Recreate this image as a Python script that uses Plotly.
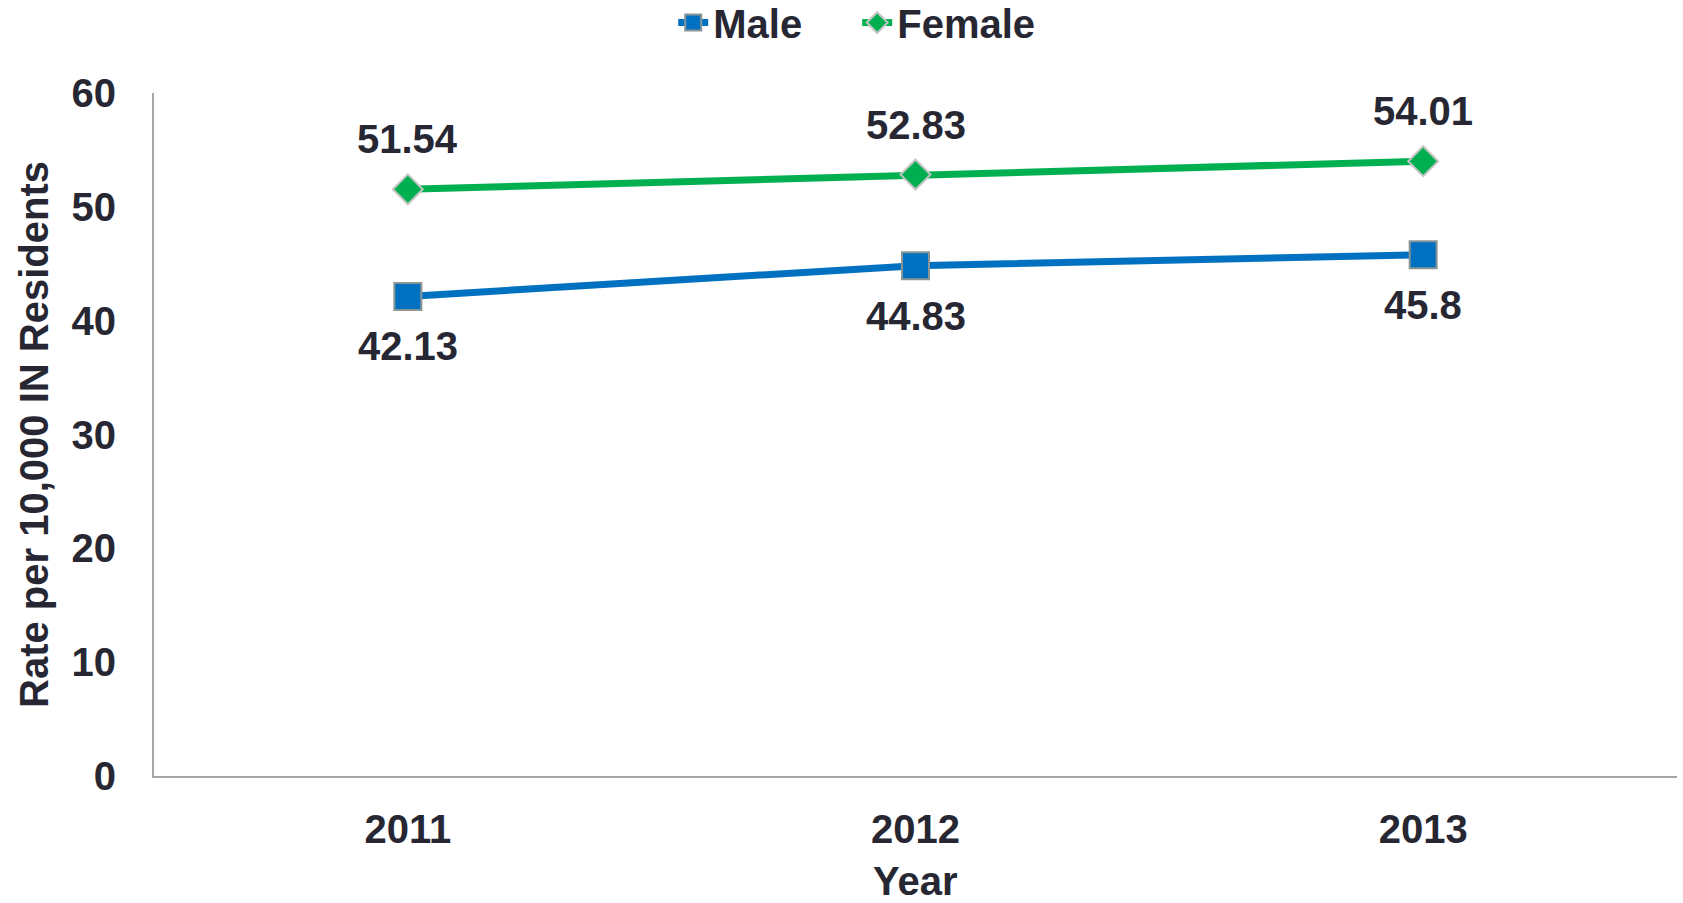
import plotly.graph_objects as go

years = ["2011", "2012", "2013"]
male = [42.13, 44.83, 45.8]
female = [51.54, 52.83, 54.01]
male_labels = ["42.13", "44.83", "45.8"]
female_labels = ["51.54", "52.83", "54.01"]
y_ticks = [0, 10, 20, 30, 40, 50, 60]

TXT = "#272733"
FONT = "Liberation Sans, Arial, sans-serif"
BIG = dict(family=FONT, size=40, color=TXT, weight="bold")

fig = go.Figure()
fig.add_trace(go.Scatter(
    x=years, y=male, name="Male", mode="lines+markers",
    line=dict(color="#0070C0", width=7),
    marker=dict(symbol="square", size=27, color="#0070C0",
                line=dict(color="#8a9696", width=2)),
))
fig.add_trace(go.Scatter(
    x=years, y=female, name="Female", mode="lines+markers",
    line=dict(color="#00B050", width=7),
    marker=dict(symbol="diamond", size=23, color="#00B050",
                line=dict(color="#c4c4c4", width=2)),
))

for i, (y, t) in enumerate(zip(male, male_labels)):
    fig.add_annotation(x=i, y=y, text=t, showarrow=False, yshift=-50,
                       yanchor="middle", xanchor="center", font=BIG)
for i, (y, t) in enumerate(zip(female, female_labels)):
    fig.add_annotation(x=i, y=y, text=t, showarrow=False, yshift=50,
                       yanchor="middle", xanchor="center", font=BIG)

# x-axis title
fig.add_annotation(x=0.5, y=0, xref="paper", yref="paper", text="Year",
                   showarrow=False, yanchor="middle", xanchor="center",
                   yshift=-105, font=BIG)

fig.update_layout(
    width=1683, height=903,
    margin=dict(l=154, r=6, t=93, b=127),
    paper_bgcolor="white", plot_bgcolor="white",
    font=BIG,
    showlegend=True,
    legend=dict(orientation="h", xref="container", yref="container",
                x=0.40, xanchor="left", y=0.975, yanchor="middle",
                font=BIG, bgcolor="rgba(0,0,0,0)", itemsizing="trace",
                entrywidth=139, tracegroupgap=0),
    xaxis=dict(
        type="category", range=[-0.5, 2.5], automargin=False,
        showline=True, linecolor="#a6a6a6", linewidth=2,
        showgrid=False, ticks="", ticklabelstandoff=17,
    ),
    yaxis=dict(
        range=[0, 60], tickvals=y_ticks, automargin=False,
        showline=True, linecolor="#a6a6a6", linewidth=2,
        showgrid=False, zeroline=False, ticks="", ticklabelstandoff=28,
        title=dict(text="Rate per 10,000 IN Residents", standoff=11, font=BIG),
    ),
)

fig.write_html("out.html", config={"displayModeBar": False},
               post_script="document.body.style.margin='0';document.body.style.padding='0';")
